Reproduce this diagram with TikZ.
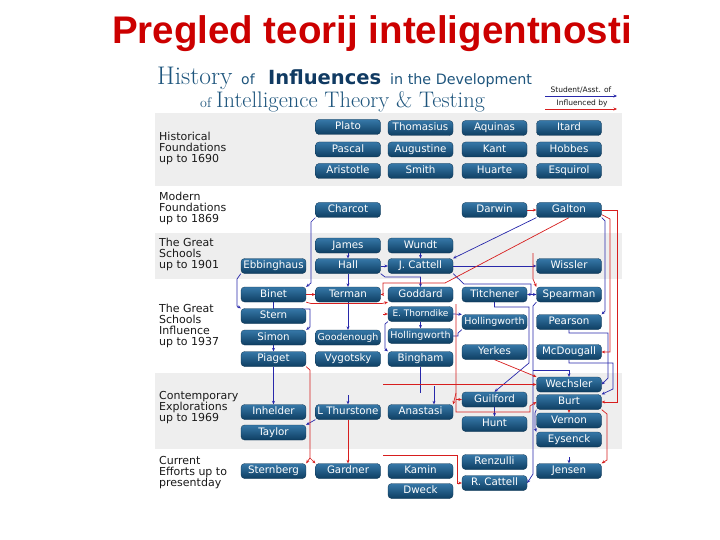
\documentclass[tikz,border=0pt]{standalone}
\usepackage{fontspec}
\newfontfamily\dv{DejaVu Sans}
\newfontfamily\libs{Liberation Sans}
\newfontfamily\lmr{Latin Modern Roman}
\usetikzlibrary{arrows.meta}
\definecolor{titlered}{RGB}{204,0,0}
\definecolor{band}{RGB}{238,238,238}
\definecolor{hdr}{RGB}{30,85,125}
\definecolor{hdrb}{RGB}{16,58,98}
\definecolor{boxtop}{RGB}{54,120,168}
\definecolor{boxbot}{RGB}{14,62,98}
\definecolor{boxedge}{RGB}{10,48,78}
\definecolor{stublue}{RGB}{40,40,170}
\definecolor{infred}{RGB}{215,30,30}
\definecolor{lbl}{RGB}{25,25,25}
\pgfdeclarelayer{back}
\pgfdeclarelayer{mid}
\pgfsetlayers{back,mid,main}
\begin{document}
\begin{tikzpicture}[x=1pt,y=-1pt,
 nbox/.style={shape=rectangle, rounded corners=3.5pt, top color=boxtop, bottom color=boxbot, draw=boxedge, line width=0.3pt, minimum width=65pt, minimum height=15pt, inner sep=0pt, text=white, font=\dv\fontsize{10.3}{10}\selectfont, text height=7.2pt, text depth=1.8pt},
 small/.style={font=\dv\fontsize{9.5}{10}\selectfont},
 stu/.style={draw=stublue, line width=0.7pt, -{Stealth[length=3.5pt,width=3pt]}},
 stuline/.style={draw=stublue, line width=0.7pt},
 inf/.style={draw=infred, line width=0.7pt, -{Stealth[length=3.5pt,width=3pt]}},
 infline/.style={draw=infred, line width=0.7pt},
 era/.style={anchor=north west, align=left, text=lbl, font=\dv\fontsize{11}{11}\selectfont, inner sep=0pt},
]
\useasboundingbox (0,0) rectangle (720,540);
\begin{pgfonlayer}{back}
\fill[white] (0,0) rectangle (720,540);
\fill[band] (155,113) rectangle (622,186);
\fill[band] (155,233) rectangle (622,279);
\fill[band] (155,373) rectangle (622,449);
\end{pgfonlayer}

% title
\node[anchor=base, inner sep=0pt, text=titlered, font=\libs\bfseries\fontsize{38.5}{40}\selectfont] (title) at (372,44) {Pregled teorij inteligentnosti};

% header
\node[anchor=base west, inner sep=0pt, text=hdr, font=\lmr\fontsize{25.5}{24}\selectfont] (h1) at (157,85) {History};
\node[anchor=base west, inner sep=0pt, text=hdr, font=\dv\fontsize{14}{14}\selectfont] (h2) at (241,85) {of};
\node[anchor=base west, inner sep=0pt, text=hdrb, font=\dv\bfseries\fontsize{19.5}{20}\selectfont] (h3) at (268,85) {Influences};
\node[anchor=base west, inner sep=0pt, text=hdr, font=\dv\fontsize{14.3}{14}\selectfont] (h4) at (390,85) {in the Development};
\node[anchor=base west, inner sep=0pt, text=hdr, font=\lmr\fontsize{14}{14}\selectfont] (h5) at (200,108) {of};
\node[anchor=base west, inner sep=0pt, text=hdr, font=\lmr\fontsize{22.5}{22}\selectfont] (h6) at (216,108) {Intelligence Theory \& Testing};

% legend
\node[inner sep=0pt, text=lbl, font=\dv\fontsize{7.5}{8}\selectfont] (lg1) at (581,90) {Student/Asst. of};
\node[inner sep=0pt, text=lbl, font=\dv\fontsize{7.5}{8}\selectfont] (lg2) at (582,103) {Influenced by};
\coordinate (lga) at (545,96); \coordinate (lgb) at (617,96);
\coordinate (lgc) at (545,109); \coordinate (lgd) at (617,109);
\draw[stu] (lga) -- (lgb);
\draw[inf] (lgc) -- (lgd);

% era labels
\node[era] (e1) at (159,132) {Historical\\Foundations\\up to 1690};
\node[era] (e2) at (159,192) {Modern\\Foundations\\up to 1869};
\node[era] (e3) at (159,238) {The Great\\Schools\\up to 1901};
\node[era] (e4) at (159,304) {The Great\\Schools\\Influence\\up to 1937};
\node[era] (e5) at (159,391) {Contemporary\\Explorations\\up to 1969};
\node[era] (e6) at (159,456) {Current\\Efforts up to\\presentday};

% nodes
\node[nbox] (plato) at (348,127) {Plato};
\node[nbox] (thomasius) at (420.5,128) {Thomasius};
\node[nbox] (aquinas) at (494.5,128) {Aquinas};
\node[nbox] (itard) at (569,128) {Itard};
\node[nbox] (pascal) at (348,149.5) {Pascal};
\node[nbox] (augustine) at (420.5,149.5) {Augustine};
\node[nbox] (kant) at (494.5,149.5) {Kant};
\node[nbox] (hobbes) at (569,149.5) {Hobbes};
\node[nbox] (aristotle) at (348,171) {Aristotle};
\node[nbox] (smith) at (420.5,171) {Smith};
\node[nbox] (huarte) at (494.5,171) {Huarte};
\node[nbox] (esquirol) at (569,171) {Esquirol};
\node[nbox] (charcot) at (348,210) {Charcot};
\node[nbox] (darwin) at (494.5,210) {Darwin};
\node[nbox] (galton) at (569,210) {Galton};
\node[nbox] (james) at (348,245.5) {James};
\node[nbox] (wundt) at (420.5,245.5) {Wundt};
\node[nbox] (ebbinghaus) at (273.5,266) {Ebbinghaus};
\node[nbox] (hall) at (348,266) {Hall};
\node[nbox] (jcattell) at (420.5,266) {J. Cattell};
\node[nbox] (wissler) at (569,266) {Wissler};
\node[nbox] (binet) at (273.5,294.5) {Binet};
\node[nbox] (terman) at (348,294.5) {Terman};
\node[nbox] (goddard) at (420.5,294.5) {Goddard};
\node[nbox] (titchener) at (494.5,294.5) {Titchener};
\node[nbox] (spearman) at (569,294.5) {Spearman};
\node[nbox] (stern) at (273.5,316) {Stern};
\node[nbox, font=\dv\fontsize{9}{10}\selectfont] (ethorndike) at (420.5,314) {E. Thorndike};
\node[nbox, small] (hollB) at (494.5,322) {Hollingworth};
\node[nbox] (pearson) at (569,322) {Pearson};
\node[nbox] (simon) at (273.5,337.5) {Simon};
\node[nbox, small] (goodenough) at (348,337.5) {Goodenough};
\node[nbox, small] (hollA) at (420.5,336) {Hollingworth};
\node[nbox] (piaget) at (273.5,359) {Piaget};
\node[nbox] (vygotsky) at (348,359) {Vygotsky};
\node[nbox] (bingham) at (420.5,359) {Bingham};
\node[nbox] (yerkes) at (494.5,352) {Yerkes};
\node[nbox] (mcdougall) at (569,352) {McDougall};
\node[nbox] (wechsler) at (569,384.5) {Wechsler};
\node[nbox] (guilford) at (494.5,399.5) {Guilford};
\node[nbox] (burt) at (569,402) {Burt};
\node[nbox] (inhelder) at (273.5,412) {Inhelder};
\node[nbox] (thurstone) at (348,412) {L Thurstone};
\node[nbox] (anastasi) at (420.5,412) {Anastasi};
\node[nbox] (hunt) at (494.5,424) {Hunt};
\node[nbox] (vernon) at (569,420.5) {Vernon};
\node[nbox] (taylor) at (273.5,432.5) {Taylor};
\node[nbox] (eysenck) at (569,439.5) {Eysenck};
\node[nbox] (renzulli) at (494.5,462) {Renzulli};
\node[nbox] (sternberg) at (273.5,471) {Sternberg};
\node[nbox] (gardner) at (348,471) {Gardner};
\node[nbox] (kamin) at (420.5,471) {Kamin};
\node[nbox] (jensen) at (569,471) {Jensen};
\node[nbox] (rcattell) at (494.5,483) {R. Cattell};
\node[nbox] (dweck) at (420.5,491) {Dweck};

% free ends
\coordinate (gs0) at (533,253);
\coordinate (r456) at (456,304);
\coordinate (et0) at (383,314);
\coordinate (w0) at (383,384.5);
\coordinate (rc0) at (383,455);
\coordinate (th0) at (348,395);
\coordinate (jz) at (569,457);
\coordinate (an0) at (434,386);
\coordinate (bg1) at (420.5,393);
\coordinate (sw1) at (533,370);
\coordinate (pg) at (310,458);
\coordinate (ts) at (531,294.5);
\coordinate (gt) at (383,294.5);
\coordinate (rj) at (456,399.5);
\coordinate (ra) at (456,393);

\begin{pgfonlayer}{mid}
% student / assistant of (blue)
\draw[stu] (charcot.south west) -- (311,222) -- (311,283) -- (binet.north east);
\draw[stu] (james.south) -- (hall.north);
\draw[stu] (hall.east) -- (jcattell.west);
\draw[stu] (hall.south) -- (terman.north);
\draw[stu] (hall.south east) -- (385,277) -- (420.5,277) -- (goddard.north);
\draw[stu] (wundt.south) -- (jcattell.north);
\draw[stu] (galton.south west) -- (jcattell.north east);
\draw[stu] (jcattell.east) -- (wissler.west);
\draw[stu] (ebbinghaus.south west) -- (237,279) -- (237,306) -- (stern.north west);
\draw[stu] (jcattell.south east) -- (464,284) -- (531,284) -- (ts) -- (spearman.west);
\draw[stu] (ts) -- (titchener.east);
\draw[stu] (titchener.south) -- (494.5,307) -- (529,307) -- (529,363) -- (guilford.north);
\draw[stu] (spearman.south west) -- (533,306) -- (533,474) -- (rcattell.east);
\draw[stu] (sw1) -- (569,370) -- (wechsler.north);
\draw[stu] (galton.south east) -- (605,221) -- (605,311) -- (pearson.north east);
\draw[stu] (pearson.south) -- (569,333) -- (608,333) -- (608,378) -- (wechsler.east);
\draw[stu] (mcdougall.south) -- (569,363) -- (613,363) -- (613,389) -- (burt.north east);
\draw[stu] (burt.south west) -- (535,413) -- (535,428) -- (eysenck.north west);
\draw[stu] (jz) -- (jensen.north);
\draw[stu] (ethorndike.east) -- (hollB.north west);
\draw[stu] (ethorndike.south) -- (hollA.north);
\draw[stu] (ethorndike.south west) -- (385,324) -- (385,349) -- (bingham.north west);
\draw[stuline] (hollA.east) -- (458,336) -- (458,333) -- (hollB.south west);
\draw[stuline] (bingham.south) -- (bg1);
\draw[stu] (an0) -- (an0 |- anastasi.north);
\draw[stu] (binet.south) -- (273.5,309) -- (310,309) -- (310,327) -- (simon.north east);
\draw[stu] (simon.south) -- (piaget.north);
\draw[stu] (piaget.south) -- (inhelder.north);
\draw[stu] (terman.south) -- (goodenough.north);
\draw[stu] (th0) -- (thurstone.north);
\draw[stu] (thurstone.south west) -- (taylor.north east);
\draw[stu] (guilford.south) -- (hunt.north);

% influenced by (red)
\draw[inf] (darwin.east) -- (galton.west);
\draw[inf] (galton.south) -- (445,283) -- (383,283) -- (gt) -- (terman.east);
\draw[inf] (binet.east) -- (terman.west);
\draw[inf] (binet.south east) -- (311,303.5) -- (382,303.5) -- (goddard.south west);
\draw[inf] (gs0) -- (533,279) -- (spearman.north west);
\draw[inf] (galton.east) -- (617,210) -- (617,402) -- (burt.east);
\draw[inf] (galton.-8) -- (610,219) -- (610,352) -- (mcdougall.east);
\draw[inf] (yerkes.south) -- (wechsler.north west);
\draw[inf] (w0) -- (wechsler.west);
\draw[inf] (r456) -- (456,412) -- (530,412) -- (530,406) -- (burt.west);
\draw[inf] (rj) -- (guilford.west);
\draw[inf] (ra) -- (anastasi.north east);
\draw[inf] (et0) -- (ethorndike.west);
\draw[inf] (rc0) -- (457,455) -- (457,483) -- (rcattell.west);
\draw[infline] (piaget.south east) -- (310,370) -- (pg);
\draw[inf] (pg) -- (sternberg.north east);
\draw[inf] (pg) -- (gardner.north west);
\draw[inf] (thurstone.south) -- (gardner.north);
\draw[inf] (burt.south) -- (vernon.north);
\draw[inf] (burt.south east) -- (607,414) -- (607,460) -- (jensen.north east);
\end{pgfonlayer}
\end{tikzpicture}
\end{document}
